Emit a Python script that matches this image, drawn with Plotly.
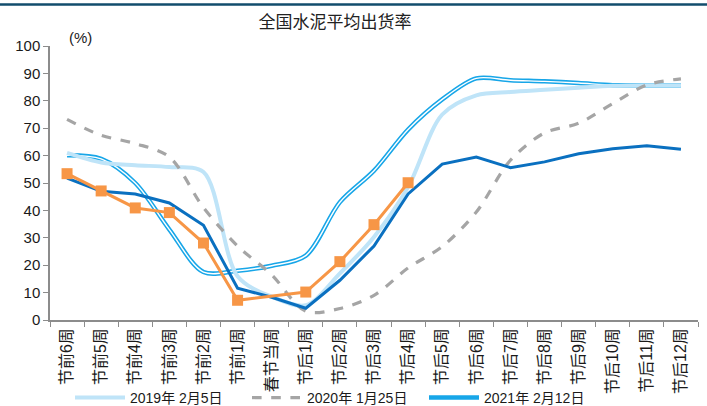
import plotly.graph_objects as go

# Weeks around the Spring Festival
weeks = ["节前6周", "节前5周", "节前4周", "节前3周", "节前2周", "节前1周", "春节当周",
         "节后1周", "节后2周", "节后3周", "节后4周", "节后5周", "节后6周", "节后7周",
         "节后8周", "节后9周", "节后10周", "节后11周", "节后12周"]

# Average cement shipment rate (%)
rate_2019 = [61.0, 57.5, 56.5, 55.8, 54.0, 16.0, 8.5, 5.4, 17.0, 30.3, 48.5, 75.0,
             82.0, 83.2, 84.0, 84.8, 85.5, 85.7, 85.7]
rate_2020 = [73.2, 67.4, 64.4, 59.5, 41.0, 27.0, 16.5, 3.2, 4.2, 9.0, 19.0, 26.8,
             39.4, 58.3, 68.3, 71.8, 79.0, 85.8, 88.0]
rate_2021 = [60.1, 58.8, 50.0, 33.0, 17.5, 18.0, 19.8, 23.5, 43.0, 54.5, 69.5, 80.5,
             88.2, 87.5, 87.1, 86.5, 85.7, 85.7, 85.7]
rate_2022 = [51.8, 47.0, 46.0, 42.7, 34.6, 11.6, 8.3, 4.3, 14.5, 27.0, 46.0, 56.9,
             59.5, 55.6, 57.7, 60.7, 62.5, 63.6, 62.3]
rate_2023 = [53.4, 47.1, 40.9, 39.2, 28.1, 7.2, None, 10.2, 21.3, 34.8, 50.1, None,
             None, None, None, None, None, None, None]

W, H = 707, 406
M_L, M_R, M_T, M_B = 50, 9, 46, 86
plot_w = W - M_L - M_R
plot_h = H - M_T - M_B

AXIS_GREY = "#8c8c8c"
FONT = "Liberation Sans, Arial, Noto Sans CJK SC, sans-serif"
CJK = "Noto Sans CJK SC, sans-serif"

fig = go.Figure()

# 2021: double line (blue outline with white core)
fig.add_trace(go.Scatter(x=weeks, y=rate_2021, name="2021年 2月12日", mode="lines",
                         line=dict(color="#17a6e8", width=4.5, shape="spline", smoothing=0.9),
                         legendrank=3))
fig.add_trace(go.Scatter(x=weeks, y=rate_2021, mode="lines", showlegend=False, hoverinfo="skip",
                         line=dict(color="white", width=1.4, shape="spline", smoothing=0.9)))

fig.add_trace(go.Scatter(x=weeks, y=rate_2019, name="2019年 2月5日", mode="lines",
                         line=dict(color="#bfe4f8", width=4, shape="spline", smoothing=0.9),
                         legendrank=1))
fig.add_trace(go.Scatter(x=weeks, y=rate_2020, name="2020年 1月25日", mode="lines",
                         line=dict(color="#a5a5a5", width=3.2, dash="dash", shape="spline",
                                   smoothing=0.9),
                         legendrank=2))
fig.add_trace(go.Scatter(x=weeks, y=rate_2022, name="2022年 2月1日", mode="lines",
                         line=dict(color="#0a70c0", width=3), showlegend=False))
fig.add_trace(go.Scatter(x=weeks, y=rate_2023, name="2023年 1月22日", mode="lines+markers",
                         connectgaps=True,
                         line=dict(color="#f79646", width=3),
                         marker=dict(symbol="square", size=11, color="#f79646"),
                         showlegend=False))

# Dark header rule across the top of the page
fig.add_shape(type="line", xref="paper", yref="paper",
              x0=-M_L / plot_w, x1=1 + M_R / plot_w,
              y0=1 + (M_T - 4.5) / plot_h, y1=1 + (M_T - 4.5) / plot_h,
              line=dict(color="#124d6c", width=2.5))

fig.add_annotation(text="(%)", xref="paper", yref="paper",
                   x=(67 - M_L) / plot_w, y=1 + (M_T - 27) / plot_h,
                   showarrow=False, font=dict(family=FONT, size=15, color="#1a1a1a"))

fig.update_layout(
    width=W, height=H,
    margin=dict(l=M_L, r=M_R, t=M_T, b=M_B, pad=0, autoexpand=False),
    plot_bgcolor="white", paper_bgcolor="white",
    title=dict(text="全国水泥平均出货率", xref="paper", yref="container",
               x=(335 - M_L) / plot_w, xanchor="center", y=1 - 22 / H, yanchor="middle",
               font=dict(family=CJK, size=17, color="#222222")),
    xaxis=dict(type="category", categoryorder="array", categoryarray=weeks,
               range=[-0.5, len(weeks) - 0.5],
               tickson="boundaries", ticks="outside", ticklen=5, tickwidth=1.3,
               tickcolor=AXIS_GREY, showline=True, linecolor=AXIS_GREY, linewidth=1.5,
               showgrid=False, tickangle=-90, automargin=False,
               tickfont=dict(family=FONT, size=16, color="#1a1a1a")),
    yaxis=dict(range=[0, 100], dtick=10, ticks="outside", ticklen=5, tickwidth=1.3,
               tickcolor=AXIS_GREY, showline=True, linecolor=AXIS_GREY, linewidth=1.5,
               showgrid=False, zeroline=False, automargin=False,
               tickfont=dict(family=FONT, size=15, color="#1a1a1a")),
    legend=dict(orientation="h", x=(70 - M_L) / plot_w, xanchor="left",
                y=-(398 - (M_T + plot_h)) / plot_h, yanchor="middle",
                font=dict(family=FONT, size=14, color="#1a1a1a"),
                itemwidth=50, entrywidth=112, bgcolor="rgba(0,0,0,0)"),
    showlegend=True,
)

fig.write_html("out.html")
